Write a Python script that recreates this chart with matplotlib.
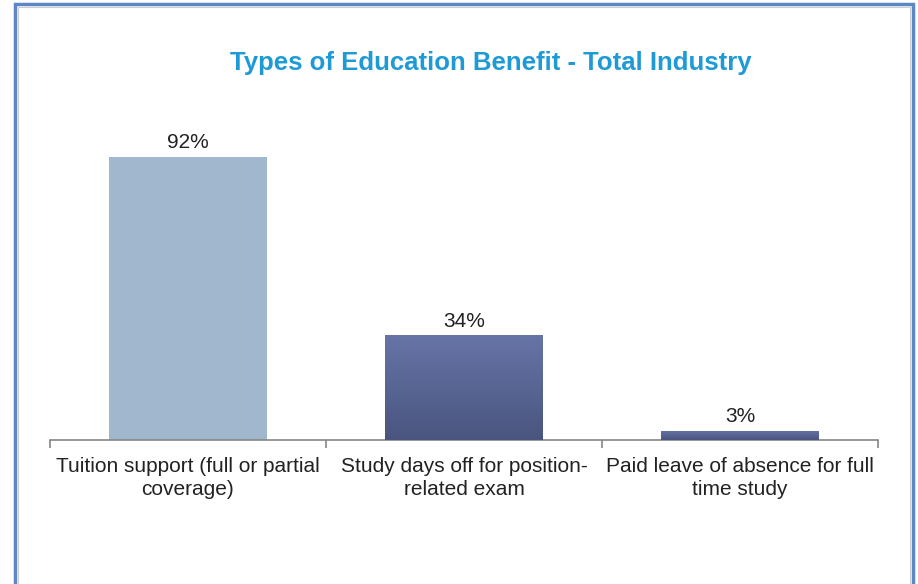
import matplotlib
matplotlib.use("Agg")
import matplotlib.pyplot as plt
import numpy as np
from matplotlib.patches import Rectangle
from matplotlib.colors import LinearSegmentedColormap

categories = ["Tuition support (full or partial\ncoverage)",
              "Study days off for position-\nrelated exam",
              "Paid leave of absence for full\ntime study"]
values = [92, 34, 3]
labels = ["92%", "34%", "3%"]
title = "Types of Education Benefit - Total Industry"

plt.rcParams['font.family'] = ['Liberation Sans', 'DejaVu Sans']

W, H = 918, 584
fig = plt.figure(figsize=(W/100, H/100), dpi=100)
fig.patch.set_facecolor('white')

# outer border
fig.add_artist(Rectangle((15/W, -0.05), (913-15)/W, (H-4)/H + 0.05, transform=fig.transFigure,
                         fill=False, edgecolor='#5B87C5', linewidth=2.5))
fig.add_artist(Rectangle((18/W, -0.05), (910-18)/W, (H-7)/H + 0.05, transform=fig.transFigure,
                         fill=False, edgecolor='#D0D0D0', linewidth=0.8))

ax = fig.add_axes([50/W, 144/H, 828/W, 307.6/H])
x = np.arange(len(values))
colors = ['#A0B7CD', '#5E6B9E', '#5E6B9E']
bars = ax.bar(x, values, width=0.57, color=colors, zorder=2)

# gradient on the dark bars
cmap = LinearSegmentedColormap.from_list('g', ['#4A557F', '#6774A6'])
grad = np.linspace(0, 1, 256).reshape(-1, 1)
for b in list(bars)[1:]:
    x0, y0 = b.get_x(), b.get_y()
    w, h = b.get_width(), b.get_height()
    im = ax.imshow(grad, cmap=cmap, origin='lower', aspect='auto',
                   extent=[x0, x0 + w, y0, y0 + h], zorder=3)
    im.set_clip_path(b)

for xi, v, lab in zip(x, values, labels):
    ax.annotate(lab, (xi, v), xytext=(0, 3.5), textcoords='offset points',
                ha='center', va='bottom', fontsize=15, color='#222222')

ax.set_xlim(-0.5, 2.5)
ax.set_ylim(0, 100)
for s in ['top', 'right', 'left']:
    ax.spines[s].set_visible(False)
ax.spines['bottom'].set_color('#868686')
ax.spines['bottom'].set_linewidth(1.2)
ax.set_yticks([])
ax.set_xticks([-0.5, 0.5, 1.5, 2.5])
ax.set_xticklabels([])
ax.tick_params(axis='x', length=6, width=1.2, color='#868686', direction='out')
ax.set_xticks(x, minor=True)
ax.set_xticklabels(categories, minor=True, fontsize=15, color='#222222', linespacing=1.32)
ax.tick_params(axis='x', which='minor', length=0, pad=12)

fig.text(491/W, 1 - 63/H, title, ha='center', va='center', fontsize=18.5,
         fontweight='bold', color='#1E9AD6')

fig.savefig('out.png', dpi=100, facecolor='white')
